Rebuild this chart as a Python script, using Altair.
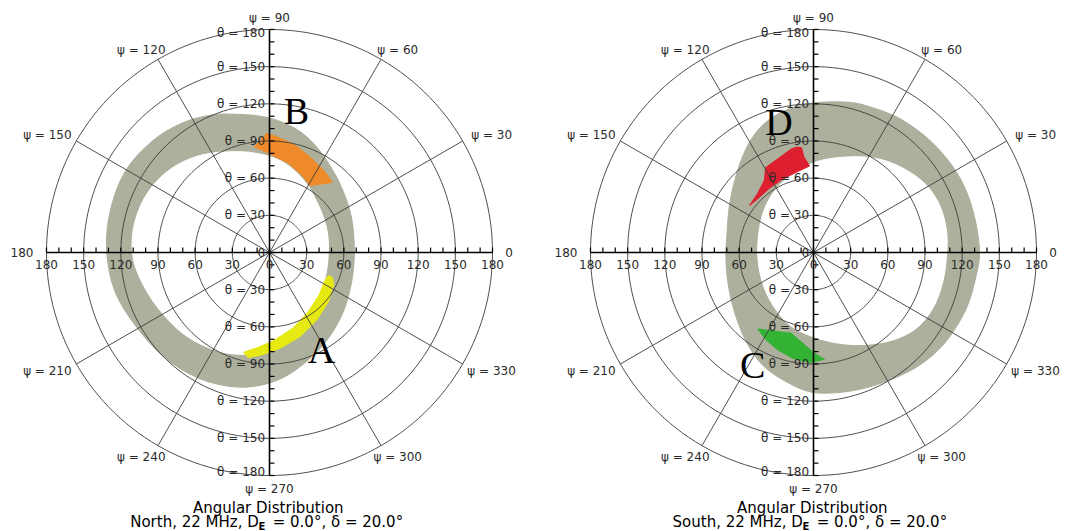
import math
import altair as alt
import pandas as pd

# ---------------- values (degrees; x = θ·cosψ, y = θ·sinψ) ----------------
# North panel: grey ring
N_RING_OUT_X = [-25.2, -0.9, 20.6, 36.7, 50.2, 59.6, 66.3, 68.5, 66.3, 59.6, 47.5, 31.3, 9.8, -14.4,
                -38.6, -62.8, -87.0, -108.6, -124.7, -131.4, -128.7, -116.6, -95.1, -70.9, -46.7]
N_RING_OUT_Y = [111.5, 108.8, 100.2, 86.8, 67.9, 49.1, 27.6, 0.5, -23.5, -47.8, -69.3, -86.8, -101.6,
                -108.3, -107.0, -98.9, -82.8, -58.5, -31.6, 0.5, 33.0, 65.2, 89.5, 104.3, 111.0]
N_RING_IN_X = [-27.8, -6.3, 12.5, 28.6, 39.4, 46.1, 47.5, 44.8, 36.7, 20.6, -0.9, -22.5, -44.0, -68.2,
               -89.7, -104.5, -110.7, -108.6, -97.8, -79.0, -54.8]
N_RING_IN_Y = [81.4, 79.2, 72.0, 57.2, 38.3, 19.5, 0.5, -20.9, -42.4, -63.9, -78.7, -82.2, -78.7, -66.6,
               -45.1, -20.9, 0.5, 24.9, 49.1, 67.9, 78.7]
# North panel: orange patch (B) and yellow patch (A)
B_X = [-12.2, -2.3, 5.8, 20.6, 34.0, 44.8, 50.7, 32.7, 26.0, 15.2, 4.4, -6.3]
B_Y = [85.4, 96.2, 93.5, 86.8, 76.0, 65.2, 56.6, 53.9, 62.6, 72.0, 77.4, 82.7]
A_X = [50.7, 51.8, 47.5, 38.1, 24.6, 8.5, -6.3, -17.1, -21.1, -9.0, 4.4, 19.2, 31.3, 40.0, 44.8, 47.5]
A_Y = [-20.0, -26.2, -39.7, -54.5, -67.9, -77.4, -82.7, -84.9, -80.6, -76.5, -70.6, -60.7, -47.8, -34.3,
       -22.2, -18.7]

# South panel: grey ring
S_RING_OUT_X = [4.8, 29.0, 45.2, 66.7, 85.6, 101.7, 115.2, 124.6, 131.0, 134.0, 131.0, 123.0, 106.0, 84.0,
                56.0, 28.7, 0.0, -22.0, -41.0, -54.3, -63.8, -69.2, -70.7, -69.8, -67.8, -62.4, -54.3,
                -43.6, -30.1, -14.0]
S_RING_OUT_Y = [121.2, 121.2, 117.7, 109.6, 97.5, 82.7, 65.2, 46.4, 24.0, 0.0, -20.0, -46.0, -73.0, -92.0,
                -105.0, -112.0, -113.0, -104.3, -91.0, -72.0, -48.0, -23.6, -3.0, 15.5, 38.3, 62.5, 84.1,
                100.2, 111.0, 117.7]
S_RING_IN_X = [34.4, 55.9, 74.8, 91.0, 101.7, 107.1, 107.6, 104.4, 96.3, 82.9, 64.0, 42.5, 21.0, -0.5,
               -19.4, -32.8, -41.4, -45.0, -43.6, -38.2, -27.4, -11.3, 7.5]
S_RING_IN_Y = [77.3, 74.7, 66.6, 54.5, 38.3, 19.5, 0.6, -23.6, -45.0, -61.2, -70.6, -74.1, -73.3, -67.9,
               -58.5, -42.4, -23.6, -2.0, 19.5, 38.3, 54.5, 66.6, 74.7]
# South panel: red patch (D) and green patch (C)
D_X = [-51.7, -45.0, -39.5, -38.7, -30.1, -18.0, -13.5, -9.7, -7.8, -3.2, -14.0, -24.8, -35.5, -46.2]
D_Y = [37.8, 47.8, 58.5, 68.5, 74.7, 83.5, 85.1, 84.6, 77.3, 69.8, 64.7, 59.3, 51.8, 42.4]
C_X = [-45.0, -18.0, 0.8, 8.9, -3.2, -16.7, -28.8, -38.2]
C_Y = [-61.7, -65.2, -81.4, -86.2, -88.9, -85.4, -78.7, -70.6]

# grid / labels
THETA_RINGS = [30, 60, 90, 120, 150, 180]
PSI_SPOKES = [30, 60, 120, 150, 210, 240, 300, 330]
PSI_LABELS = [30, 60, 90, 120, 150, 210, 240, 270, 300, 330]
H_TICK_LABELS = ["180", "150", "120", "90", "60", "30", "0", "30", "60", "90", "120", "150", "180"]
H_TICK_POS = [-180, -150, -120, -90, -60, -30, 0, 30, 60, 90, 120, 150, 180]
THETA_LABELS = ["θ = 30", "θ = 60", "θ = 90", "θ = 120", "θ = 150", "θ = 180"]
TITLE_1 = "Angular Distribution"
N_TITLE_2 = "North, 22 MHz, D"
S_TITLE_2 = "South, 22 MHz, D"
TITLE_2_SUB = "E"
TITLE_2_REST = "= 0.0°, δ = 20.0°"

# ---------------- layout ----------------
K = 1.239                 # pixels per degree
H = 515
W1, W2 = 530, 512
XMIN = -(269.5 - 8) / K
YMAX = (252.5 - 8) / K
YMIN = YMAX - H / K

GREY = "#adb09c"
FONT = "DejaVu Sans"
TXT = "#2a2a2a"


def make_panel(width, ring_out, ring_in, patches, letters, title2):
    xs = alt.Scale(domain=[XMIN, XMIN + width / K], nice=False, zero=False)
    ys = alt.Scale(domain=[YMIN, YMAX], nice=False, zero=False)

    def X(f="x"):
        return alt.X(f"{f}:Q", scale=xs, axis=None)

    def Y(f="y"):
        return alt.Y(f"{f}:Q", scale=ys, axis=None)

    def poly(xv, yv, color, interp):
        df = pd.DataFrame({"x": xv, "y": yv, "i": range(len(xv))})
        return alt.Chart(df).mark_line(interpolate=interp, fill=color, stroke=color,
                                       strokeWidth=1).encode(x=X(), y=Y(), order="i:Q")

    layers = [poly(ring_out[0], ring_out[1], GREY, "cardinal-closed"),
              poly(ring_in[0], ring_in[1], "#ffffff", "cardinal-closed")]
    for xv, yv, col in patches:
        layers.append(poly(xv, yv, col, "linear-closed"))

    # concentric grid circles (geometry of the polar grid)
    cx, cy, cr, ci = [], [], [], []
    for r in THETA_RINGS:
        for k in range(0, 361, 2):
            a = math.radians(k)
            cx.append(r * math.cos(a))
            cy.append(r * math.sin(a))
            cr.append(r)
            ci.append(k)
    circ = pd.DataFrame({"x": cx, "y": cy, "r": cr, "i": ci})
    layers.append(alt.Chart(circ).mark_line(stroke="#3c3c3c", strokeWidth=0.9).encode(
        x=X(), y=Y(), detail="r:N", order="i:Q"))

    # spokes
    sp = pd.DataFrame({"x": [0.0] * len(PSI_SPOKES), "y": [0.0] * len(PSI_SPOKES),
                       "x2": [180 * math.cos(math.radians(p)) for p in PSI_SPOKES],
                       "y2": [180 * math.sin(math.radians(p)) for p in PSI_SPOKES]})
    layers.append(alt.Chart(sp).mark_rule(stroke="#3c3c3c", strokeWidth=0.9).encode(
        x=X(), y=Y(), x2="x2:Q", y2="y2:Q"))

    # main axes
    ax = pd.DataFrame({"x": [-180.0, 0.0], "y": [0.0, -180.0], "x2": [180.0, 0.0], "y2": [0.0, 180.0]})
    layers.append(alt.Chart(ax).mark_rule(stroke="#000000", strokeWidth=1.6).encode(
        x=X(), y=Y(), x2="x2:Q", y2="y2:Q"))

    # ticks every 10 degrees
    tv = list(range(-180, 181, 10))
    tk = pd.DataFrame({"x": tv + [0.0] * len(tv), "y": [0.0] * len(tv) + tv,
                       "x2": tv + [4.0] * len(tv), "y2": [4.0] * len(tv) + tv})
    layers.append(alt.Chart(tk).mark_rule(stroke="#000000", strokeWidth=1.2).encode(
        x=X(), y=Y(), x2="x2:Q", y2="y2:Q"))

    def text(df, align, size=12, color=TXT, font=FONT, weight="normal"):
        return alt.Chart(df).mark_text(align=align, baseline="middle", font=font, fontSize=size,
                                       color=color, fontWeight=weight).encode(x=X(), y=Y(), text="t:N")

    # horizontal tick labels
    layers.append(text(pd.DataFrame({"x": H_TICK_POS, "y": [-10.1] * len(H_TICK_POS),
                                     "t": H_TICK_LABELS}), "center"))
    # theta labels on vertical axis
    ty = [30, 60, 90, 120, 150, 177]
    th = pd.DataFrame({"x": [-3.6] * 13,
                       "y": ty + [-v for v in ty] + [0],
                       "t": THETA_LABELS + THETA_LABELS + ["0"]})
    layers.append(text(th, "right"))
    # psi labels
    px, py, pt = [], [], []
    for p in PSI_LABELS:
        s = math.sin(math.radians(p))
        px.append(207 * math.cos(math.radians(p)))
        py.append((189 if s > 0 else 191) * s)
        pt.append(f"ψ = {p}")
    layers.append(text(pd.DataFrame({"x": px, "y": py, "t": pt}), "center"))
    layers.append(text(pd.DataFrame({"x": [-190.5], "y": [-0.6], "t": ["180"]}), "right"))
    layers.append(text(pd.DataFrame({"x": [190.2], "y": [-0.4], "t": ["0"]}), "left"))

    # titles
    layers.append(text(pd.DataFrame({"x": [-1.0], "y": [-206.5], "t": [TITLE_1]}), "center", 15, "#000000"))
    layers.append(text(pd.DataFrame({"x": [-8.7], "y": [-217.8], "t": [title2]}), "right", 15, "#000000"))
    layers.append(text(pd.DataFrame({"x": [-8.9], "y": [-221.3], "t": [TITLE_2_SUB]}), "left", 10,
                       "#000000", weight="bold"))
    layers.append(text(pd.DataFrame({"x": [2.6], "y": [-217.8], "t": [TITLE_2_REST]}), "left", 15, "#000000"))

    # big letters
    lx, ly, lt = zip(*letters)
    layers.append(text(pd.DataFrame({"x": lx, "y": ly, "t": lt}), "center", 38, "#000000",
                       font="Liberation Serif"))

    return alt.layer(*layers).properties(width=width, height=H)


north = make_panel(W1, (N_RING_OUT_X, N_RING_OUT_Y), (N_RING_IN_X, N_RING_IN_Y),
                   [(B_X, B_Y, "#ee8a2a"), (A_X, A_Y, "#e6ea12")],
                   [(21.7, 112.2, "B"), (42.0, -80.3, "A")], N_TITLE_2)
south = make_panel(W2, (S_RING_OUT_X, S_RING_OUT_Y), (S_RING_IN_X, S_RING_IN_Y),
                   [(D_X, D_Y, "#de1f30"), (C_X, C_Y, "#33b233")],
                   [(-49.0, -92.8, "C"), (-27.8, 103.7, "D")], S_TITLE_2)

chart = alt.hconcat(north, south, spacing=14).properties(padding=0, background="#ffffff")
chart = chart.configure_view(stroke="transparent", strokeWidth=0)
chart.save("out.html", embed_options={"renderer": "svg", "actions": False})
